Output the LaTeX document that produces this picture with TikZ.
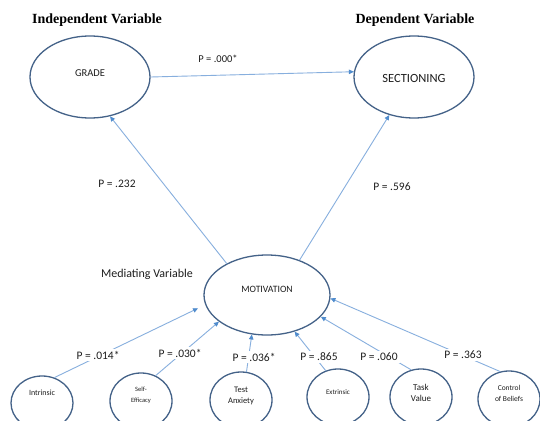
\documentclass[tikz,border=0pt]{standalone}
\usepackage{fontspec}
\setmainfont{Carlito}
\newfontfamily\titlefont{Liberation Serif}
\usetikzlibrary{arrows.meta,shapes.geometric}
\definecolor{ellcol}{RGB}{68,98,136}
\definecolor{linecol}{RGB}{135,175,222}
\definecolor{tipcol}{RGB}{80,140,205}
\definecolor{txtcol}{RGB}{30,30,30}
\tikzset{
  oval/.style={ellipse, draw=ellcol, line width=1.3pt, inner sep=0pt},
  conn/.style={draw=linecol, line width=0.9pt, -{Triangle[length=5pt,width=4.5pt,fill=tipcol,color=tipcol]}},
  plab/.style={fill=white, inner sep=2pt, text=txtcol, font=\fontsize{11.5}{13}\selectfont},
  heading/.style={font=\titlefont\bfseries\fontsize{14}{16}\selectfont, text=black},
  ovtext/.style={text=txtcol, align=center}
}
\begin{document}
\begin{tikzpicture}[x=1pt,y=-1pt]
\clip (0,0) rectangle (540,420);
\fill[white] (0,0) rectangle (540,420);
% headings
\node[heading] (indep) at (97,20) {Independent Variable};
\node[heading] (dep) at (415,20) {Dependent Variable};
% main ellipses
\node[oval, minimum width=120pt, minimum height=82pt,
  label={[ovtext, yshift=4pt, font=\fontsize{10.5}{12}\selectfont]center:GRADE}] (grade) at (90,77) {};
\node[oval, minimum width=120pt, minimum height=82pt,
  label={[ovtext, yshift=-1pt, font=\fontsize{12.5}{14}\selectfont]center:SECTIONING}] (sect) at (414,77) {};
\node[oval, minimum width=126pt, minimum height=80pt,
  label={[ovtext, yshift=6pt, font=\fontsize{9.7}{11}\selectfont]center:MOTIVATION}] (mot) at (267,295) {};
\node[text=txtcol, font=\fontsize{12}{14}\selectfont] (medlab) at (147,274) {Mediating Variable};
% bottom ellipses
\node[oval, minimum width=62pt, minimum height=54pt,
  label={[ovtext, yshift=10pt, font=\fontsize{8}{9}\selectfont]center:Intrinsic}] (intr) at (42,403) {};
\node[oval, minimum width=62pt, minimum height=56pt,
  label={[ovtext, yshift=6pt, font=\fontsize{6.5}{11}\selectfont]center:{Self-\\Efficacy}}] (self) at (141,401) {};
\node[oval, minimum width=62pt, minimum height=56pt,
  label={[ovtext, yshift=4pt, font=\fontsize{8.5}{11}\selectfont]center:{Test\\Anxiety}}] (test) at (241,400) {};
\node[oval, minimum width=62pt, minimum height=56pt,
  label={[ovtext, yshift=5pt, font=\fontsize{7}{9}\selectfont]center:Extrinsic}] (ext) at (338,397) {};
\node[oval, minimum width=62pt, minimum height=56pt,
  label={[ovtext, yshift=4pt, font=\fontsize{9}{11}\selectfont]center:{Task\\Value}}] (task) at (421,397) {};
\node[oval, minimum width=62pt, minimum height=56pt,
  label={[ovtext, yshift=6pt, font=\fontsize{7.5}{11}\selectfont]center:{Control\\of Beliefs}}] (ctrl) at (509,399) {};
% connectors top
\draw[conn] (grade.0) -- (sect.175);
\draw[conn] (mot.142) -- (grade.297);
\draw[conn] (mot.47) -- (sect.237);
% connectors bottom
\draw[conn, shorten >=8pt] (intr.64) -- (mot.189);
\draw[conn] (self.60) -- (mot.209);
\draw[conn] (test.79) -- (mot.249);
\draw[conn] (ext.115) -- (mot.307);
\draw[conn] (task.110) -- (mot.338);
\draw[conn] (ctrl.108) -- (mot.357);
% labels
\node[plab, fill=none, font=\fontsize{10.5}{12}\selectfont] (p1) at (218,59) {P = .000*};
\node[plab, fill=none] (p2) at (117,184) {P = .232};
\node[plab, fill=none] (p3) at (392,187) {P = .596};
\node[plab] (p4) at (98,355) {P = .014*};
\node[plab] (p5) at (180,353) {P = .030*};
\node[plab] (p6) at (254,357) {P = .036*};
\node[plab] (p7) at (319,357) {P = .865};
\node[plab] (p8) at (379,357) {P = .060};
\node[plab] (p9) at (463,355) {P = .363};
\end{tikzpicture}
\end{document}
